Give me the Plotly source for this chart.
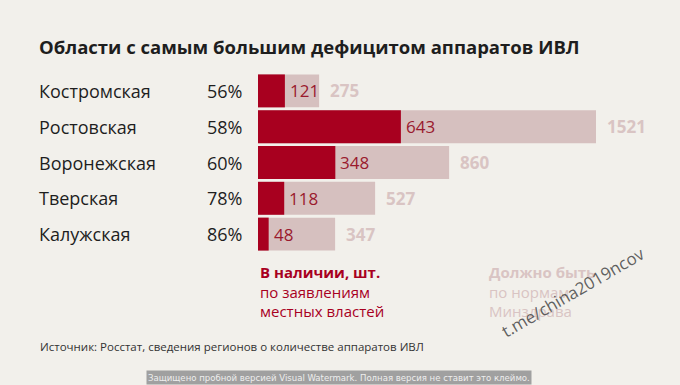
import plotly.graph_objects as go

regions = ["Костромская", "Ростовская", "Воронежская", "Тверская", "Калужская"]
percents = ["56%", "58%", "60%", "78%", "86%"]
available = [121, 643, 348, 118, 48]
required = [275, 1521, 860, 527, 347]

title = "Области с самым большим дефицитом аппаратов ИВЛ"
source = "Источник: Росстат, сведения регионов о количестве аппаратов ИВЛ"
legend_have = ["В наличии, шт.", "по заявлениям", "местных властей"]
legend_need = ["Должно быть", "по нормам", "Минздрава"]

BG = "#f2f0eb"
DARK = "#a8001f"
LIGHT = "#d6c0bf"
LIGHT_TXT = "#d9c4c3"
FONT = "Open Sans"

W, H = 680, 385
L, R, T, B = 258, 0, 73, 133
plot_w = W - L - R
xmax = plot_w / (338 / 1521)

fig = go.Figure()
fig.add_bar(y=regions, x=required, orientation="h", marker=dict(color=LIGHT, line_width=0),
            hoverinfo="skip")
fig.add_bar(y=regions, x=available, orientation="h", marker=dict(color=DARK, line_width=0),
            hoverinfo="skip")

ann = []
def px2paper(px):
    return (px - L) / plot_w

for r, p, a, q in zip(regions, percents, available, required):
    ann.append(dict(x=px2paper(37), xref="paper", y=r, yref="y", text=r, showarrow=False,
                    xanchor="left", font=dict(family=FONT, size=18, color="#1e1e1e")))
    ann.append(dict(x=px2paper(244), xref="paper", y=r, yref="y", text=p, showarrow=False,
                    xanchor="right", font=dict(family=FONT, size=18, color="#1e1e1e")))
    ann.append(dict(x=a, xref="x", y=r, yref="y", text=str(a), showarrow=False,
                    xanchor="left", xshift=3, font=dict(family=FONT, size=17, color="#9a1a2e")))
    ann.append(dict(x=q, xref="x", y=r, yref="y", text="<b>%d</b>" % q, showarrow=False,
                    xanchor="left", xshift=9, font=dict(family=FONT, size=17, color=LIGHT_TXT)))

def cont(x, y, text, size, color, anchor="left", yanchor="middle", family=FONT, **kw):
    px = (x - L) / plot_w
    py = (H - B - y) / (H - T - B)
    ann.append(dict(x=px, y=py, xref="paper", yref="paper", text=text, showarrow=False,
                    xanchor=anchor, yanchor=yanchor, font=dict(family=family, size=size, color=color), **kw))

def legend_block(lines):
    return "<b>" + lines[0] + "</b><br>" + "<br>".join(lines[1:])

cont(37, 46, "<b>" + title + "</b>", 18.5, "#1e1e1e")
cont(258, 260, legend_block(legend_have), 15, DARK, yanchor="top", align="left")
cont(487, 260, legend_block(legend_need), 15, LIGHT_TXT, yanchor="top", align="left")
cont(38, 346, source, 11.5, "#333333")
cont(572, 292, "t.me/china2019ncov", 17, "rgba(70,70,70,0.85)", anchor="center", textangle=-30)
cont(339, 377, "Защищено пробной версией Visual Watermark. Полная версия не ставит это клеймо.", 9.5,
     "#eeeeee", anchor="center", family="DejaVu Sans Condensed, Liberation Sans Narrow, Roboto Condensed, Roboto",
     bgcolor="#a0a0a0", borderpad=1)

fig.update_layout(
    width=W, height=H, margin=dict(l=L, r=R, t=T, b=B),
    paper_bgcolor=BG, plot_bgcolor=BG, barmode="overlay", bargap=0.08,
    showlegend=False, annotations=ann,
    xaxis=dict(range=[0, xmax], visible=False, fixedrange=True),
    yaxis=dict(autorange="reversed", visible=False, fixedrange=True),
)
fig.write_html("out.html", config={"displayModeBar": False},
               post_script="document.body.style.margin='0';document.body.style.background='%s';" % BG)
